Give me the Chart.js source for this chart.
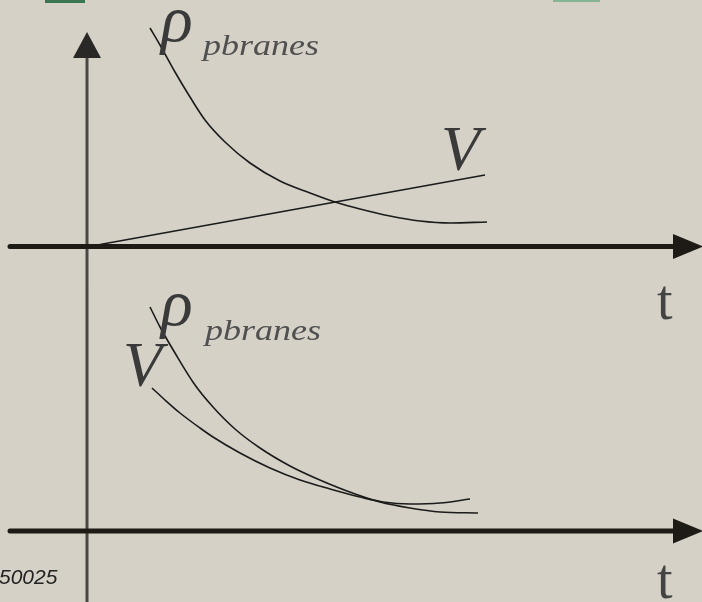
<!DOCTYPE html>
<html>
<head>
<meta charset="utf-8">
<script src="https://cdn.jsdelivr.net/npm/chart.js@4/dist/chart.umd.min.js"></script>
<style>
  html,body{margin:0;padding:0;background:#d5d1c7;overflow:hidden;}
  #wrap{position:relative;width:702px;height:602px;background:#d5d1c7;}
  .pane{position:absolute;left:0;width:702px;}
  .lbl{position:absolute;font-family:"Liberation Serif","DejaVu Serif",serif;font-style:italic;color:#3a3a3a;line-height:1;white-space:nowrap;}
  .sub{font-size:30px;color:#505050;transform-origin:0 0;transform:scaleX(1.2);}
  .rho{font-size:66px;}
  .vv{font-size:64px;}
  .tt{position:absolute;font-family:"Liberation Serif",serif;font-size:56px;color:#444;line-height:1;}
  .note{position:absolute;font-family:"Liberation Sans",Arial,sans-serif;font-style:italic;font-size:21px;color:#222;line-height:1;}
  .deco{position:absolute;top:0;}
</style>
</head>
<body>
<div id="wrap">
  <div class="pane" style="top:0;height:290px;"><canvas id="top" width="702" height="290"></canvas></div>
  <div class="pane" style="top:290px;height:312px;"><canvas id="bot" width="702" height="312"></canvas></div>

  <div class="deco" style="left:45px;width:40px;height:3px;background:#3c7650;"></div>
  <div class="deco" style="left:553px;width:47px;height:2px;background:#86b596;"></div>

  <span class="lbl rho" style="left:161px;top:-14px;">ρ</span>
  <span class="lbl sub" style="left:203px;top:30px;">pbranes</span>
  <span class="lbl vv" style="left:441px;top:117px;">V</span>
  <span class="tt" style="left:657px;top:272px;">t</span>

  <span class="lbl rho" style="left:161px;top:270px;">ρ</span>
  <span class="lbl sub" style="left:205px;top:315px;">pbranes</span>
  <span class="lbl vv" style="left:123px;top:333px;">V</span>
  <span class="tt" style="left:657px;top:551px;">t</span>

  <span class="note" style="left:-1px;top:566px;">50025</span>
</div>
<script>
// ---- data (t = time units from the vertical axis, v = value above the t-axis) ----
const topRhoT = [63, 73, 88, 103, 118, 138, 163, 193, 223, 248, 273, 303, 333, 363, 400];
const topRhoV = [218.5, 201.5, 174.5, 149.5, 126.5, 104.5, 83.5, 65.5, 53.5, 44.5, 37.5, 30.5, 25.5, 23.5, 24.5];
const topVT   = [13, 398];
const topVV   = [2, 71.5];

const botRhoT = [63, 73, 88, 108, 126, 148, 173, 203, 226, 260, 293, 323, 353, 391];
const botRhoV = [224, 204, 178, 146, 124, 102, 83, 65, 54, 40, 29, 23, 19, 18];
const botVT   = [65, 78, 93, 113, 126, 153, 183, 213, 243, 273, 296, 323, 353, 383];
const botVV   = [143, 131, 118, 103, 94, 78, 63, 51, 42, 34, 29, 27, 28, 32];

const tMin = -87, tMax = 615;

function pts(ts, vs){ return ts.map((t,i)=>({x:t, y:vs[i]})); }

function axesPlugin(opts){
  return {
    id:'arrows',
    beforeDatasetsDraw(chart){
      const c = chart.ctx, xs = chart.scales.x, ys = chart.scales.y;
      const x0 = xs.getPixelForValue(0), y0 = ys.getPixelForValue(0);
      c.save();
      c.strokeStyle = '#4a4845'; c.lineWidth = 3;
      c.beginPath();
      const vTop = opts.vArrow ? ys.getPixelForValue(opts.vArrowTip) + 24 : 0;
      c.moveTo(x0, vTop); c.lineTo(x0, chart.height); c.stroke();
      if (opts.vArrow){
        const tip = ys.getPixelForValue(opts.vArrowTip);
        c.fillStyle = '#2a2826';
        c.beginPath(); c.moveTo(x0, tip); c.lineTo(x0-14, tip+26); c.lineTo(x0+14, tip+26); c.closePath(); c.fill();
      }
      const xl = xs.getPixelForValue(-77), xr = xs.getPixelForValue(588);
      c.strokeStyle = '#1e1a15'; c.lineWidth = 5; c.lineCap = 'round';
      c.beginPath(); c.moveTo(xl, y0); c.lineTo(xr, y0); c.stroke();
      c.fillStyle = '#1e1a15';
      const tipx = xs.getPixelForValue(616);
      c.beginPath(); c.moveTo(tipx, y0); c.lineTo(xr-2, y0-12.5); c.lineTo(xr-2, y0+12.5); c.closePath(); c.fill();
      c.restore();
    }
  };
}

function makeChart(id, datasets, yMin, yMax, opts){
  return new Chart(document.getElementById(id), {
    type:'scatter',
    data:{ datasets: datasets.map(d=>({
      data:d, showLine:true, pointRadius:0, borderColor:'#1b1b1b', borderWidth:1.6,
      tension:0.4, cubicInterpolationMode:'monotone', fill:false })) },
    options:{
      responsive:false, animation:false, devicePixelRatio:1,
      layout:{padding:0},
      plugins:{legend:{display:false}, tooltip:{enabled:false}},
      scales:{
        x:{type:'linear', display:false, min:tMin, max:tMax},
        y:{type:'linear', display:false, min:yMin, max:yMax}
      }
    },
    plugins:[axesPlugin(opts)]
  });
}

makeChart('top', [pts(topRhoT, topRhoV), pts(topVT, topVV)], -43.5, 246.5, {vArrow:true, vArrowTip:214.5});
makeChart('bot', [pts(botRhoT, botRhoV), pts(botVT, botVV)], -71, 241, {vArrow:false});
</script>
</body>
</html>
